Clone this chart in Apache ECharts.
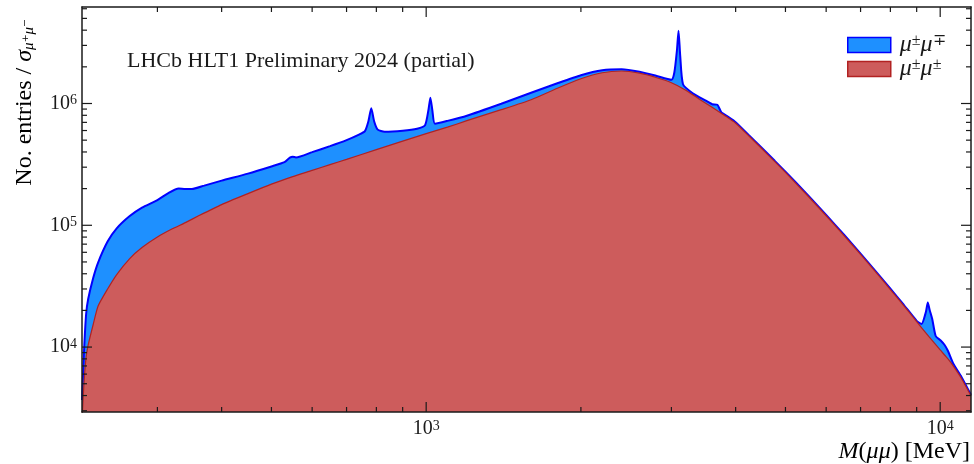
<!DOCTYPE html>
<html>
<head>
<meta charset="utf-8">
<script src="https://cdn.jsdelivr.net/npm/echarts@6/dist/echarts.min.js"></script>
<style>
  html, body { margin: 0; padding: 0; background: #fff; }
  #chart { width: 974px; height: 464px; }
</style>
</head>
<body>
<div id="chart"></div>
<script>
var chart = echarts.init(document.getElementById('chart'));

// opposite-sign pairs: mass (MeV) and entries
const massOS = [214, 216, 218, 220, 225, 230, 240, 250, 265, 280,
  300, 315, 330, 340, 350, 370, 400, 450, 500, 530,
  543, 550, 558, 600, 650, 700, 740, 760, 772, 782,
  792, 805, 830, 900, 960, 995, 1010, 1019, 1028, 1040,
  1100, 1200, 1400, 1600, 1800, 2000, 2200, 2400, 2600, 2800,
  3000, 3040, 3075, 3097, 3120, 3160, 3300, 3500, 3600, 3686,
  3750, 3850, 4000, 4250, 4500, 4750, 5000, 5500, 6000, 6500,
  7000, 7500, 8000, 8500, 9000, 9200, 9380, 9460, 9540, 9650,
  9800, 10023, 10200, 10355, 10600, 11000, 11480];
const entriesOS = [3681, 9467, 18690, 24810, 36890, 49430, 73500, 94320, 119000, 139700,
  161000, 183700, 200100, 198200, 198200, 211700, 232700, 265600, 304200, 330000,
  359300, 366100, 360600, 398600, 446300, 500000, 554600, 592700, 715900, 915000,
  715900, 609800, 587000, 598400, 621400, 663700, 881000, 1116000, 881000, 682800,
  720000, 794000, 996300, 1226000, 1467000, 1707000, 1876000, 1912000, 1824000, 1691000,
  1567000, 1807000, 2736000, 3956000, 2490000, 1439000, 1215000, 1054000, 987000, 977700,
  848500, 786700, 702400, 546000, 431400, 343200, 275700, 180900, 121500, 83570,
  58450, 41700, 30140, 22150, 16430, 15470, 19410, 23220, 20150, 17000,
  12330, 11330, 10400, 9290, 7336, 5684, 4045];

// same-sign pairs
const massSS = [214, 216, 218, 220, 225, 230, 240, 250, 265, 280,
  300, 320, 340, 360, 400, 450, 500, 550, 600, 650,
  700, 800, 900, 1000, 1100, 1200, 1400, 1600, 1800, 2000,
  2200, 2400, 2600, 2800, 3000, 3200, 3400, 3600, 3800, 4000,
  4250, 4500, 4750, 5000, 5500, 6000, 6500, 7000, 7500, 8000,
  8500, 9000, 9500, 10000, 10355, 10600, 11000, 11480];
const entriesSS = [2500, 5176, 8298, 10400, 15320, 21740, 29970, 39410, 53300, 65630,
  80050, 93070, 105200, 119000, 147800, 182000, 217800, 250900, 282100, 314800,
  347800, 417800, 490700, 565400, 639000, 722600, 889500, 1074000, 1335000, 1598000,
  1789000, 1848000, 1773000, 1635000, 1481000, 1286000, 1085000, 932400, 801700, 689300,
  538100, 425000, 338100, 271600, 178200, 119700, 82340, 57590, 41080, 29690,
  21820, 16190, 12220, 9467, 7988, 6998, 5525, 3971];

const seriesNames = ['μ±μ∓', 'μ±μ±'];
const xRange = [214, 11480];
const yRange = [2930, 6.2e6];
const xMajorTicks = [1000, 10000];
const xMinorTicks = [300, 400, 500, 600, 700, 800, 900, 2000, 3000, 4000, 5000, 6000, 7000, 8000, 9000];
const yMajorTicks = [1e4, 1e5, 1e6];
const yMinorTicks = [3000, 4000, 5000, 6000, 7000, 8000, 9000,
  2e4, 3e4, 4e4, 5e4, 6e4, 7e4, 8e4, 9e4,
  2e5, 3e5, 4e5, 5e5, 6e5, 7e5, 8e5, 9e5,
  2e6, 3e6, 4e6, 5e6, 6e6];

var serif = '"Liberation Serif", "DejaVu Serif", serif';
var ink = '#1a1a1a';

function zip(a, b) {
  return a.map(function (v, i) { return [v, b[i]]; });
}

function powLabel(v) {
  var e = Math.log10(v);
  if (Math.abs(e - Math.round(e)) > 1e-6) return '';
  return '{b|10}{s|' + Math.round(e) + '}';
}

var labelRich = {
  b: { fontFamily: serif, fontSize: 20, color: ink },
  s: { fontFamily: serif, fontSize: 14, color: ink, verticalAlign: 'top' }
};

function frameAxis(pos, showLabel) {
  var horiz = pos === 'bottom' || pos === 'top';
  return {
    type: 'log', logBase: 10, position: pos, z: 10,
    min: horiz ? xRange[0] : yRange[0],
    max: horiz ? xRange[1] : yRange[1],
    axisLine: { show: true, onZero: false, lineStyle: { color: ink, width: 1.5 } },
    axisTick: { show: false },
    splitLine: { show: false },
    axisLabel: showLabel ? {
      show: true, formatter: powLabel, rich: labelRich,
      margin: horiz ? 7 : 5, showMinLabel: false, showMaxLabel: false
    } : { show: false }
  };
}

var tickStyle = { stroke: ink, lineWidth: 1.2 };

function renderXTicks(params, api) {
  var cs = params.coordSys;
  var x = api.coord([api.value(0), 1e5])[0];
  var len = api.value(2) ? 10 : 5;
  var yb = cs.y + cs.height, yt = cs.y;
  return { type: 'group', children: [
    { type: 'line', shape: { x1: x, y1: yb, x2: x, y2: yb - len }, style: tickStyle },
    { type: 'line', shape: { x1: x, y1: yt, x2: x, y2: yt + len }, style: tickStyle }
  ] };
}

function renderYTicks(params, api) {
  var cs = params.coordSys;
  var y = api.coord([1000, api.value(1)])[1];
  var len = api.value(2) ? 10 : 5;
  var xl = cs.x, xr = cs.x + cs.width;
  return { type: 'group', children: [
    { type: 'line', shape: { x1: xl, y1: y, x2: xl + len, y2: y }, style: tickStyle },
    { type: 'line', shape: { x1: xr, y1: y, x2: xr - len, y2: y }, style: tickStyle }
  ] };
}

var xTickData = xMajorTicks.map(function (v) { return [v, 1e5, 1]; })
  .concat(xMinorTicks.map(function (v) { return [v, 1e5, 0]; }));
var yTickData = yMajorTicks.map(function (v) { return [1000, v, 1]; })
  .concat(yMinorTicks.map(function (v) { return [1000, v, 0]; }));

var option = {
  animation: false,
  backgroundColor: '#fff',
  grid: { left: 82, right: 3, top: 7, bottom: 52, containLabel: false },
  title: {
    text: 'LHCb HLT1 Preliminary 2024 (partial)',
    left: 122, top: 45,
    textStyle: { fontFamily: serif, fontSize: 22, fontWeight: 'normal', color: ink }
  },
  legend: {
    data: [
      { name: seriesNames[0], icon: 'rect', itemStyle: { color: '#1e90ff', borderColor: '#0000ff', borderWidth: 1.5 } },
      { name: seriesNames[1], icon: 'rect', itemStyle: { color: '#cd5c5c', borderColor: '#b22222', borderWidth: 1.5 } }
    ],
    orient: 'vertical', left: 842, top: 28,
    itemWidth: 43, itemHeight: 15, itemGap: 0,
    formatter: function (name) {
      return name === seriesNames[0] ? '{m|μ}{p|±}{m|μ}{p|∓}' : '{m|μ}{p|±}{m|μ}{p|±}';
    },
    textStyle: {
      padding: [0, 0, 0, 4],
      rich: {
        m: { fontFamily: serif, fontStyle: 'italic', fontSize: 24, color: ink, lineHeight: 24 },
        p: { fontFamily: serif, fontSize: 16, color: ink, verticalAlign: 'top', lineHeight: 16 }
      }
    }
  },
  graphic: [
    {
      type: 'text', x: 25, y: 19, rotation: Math.PI / 2,
      style: {
        text: '{n|No. entries / }{g|σ}{u|μ⁺μ⁻}',
        align: 'right', verticalAlign: 'middle',
        rich: {
          n: { fontFamily: serif, fontSize: 24, color: ink },
          g: { fontFamily: serif, fontStyle: 'italic', fontSize: 24, color: ink },
          u: { fontFamily: serif, fontStyle: 'italic', fontSize: 15, color: ink, verticalAlign: 'bottom' }
        }
      }
    },
    {
      type: 'text', x: 970, y: 452,
      style: {
        text: '{i|M}{n|(}{i|μμ}{n|) [MeV]}',
        align: 'right', verticalAlign: 'middle',
        rich: {
          i: { fontFamily: serif, fontStyle: 'italic', fontSize: 24, color: ink },
          n: { fontFamily: serif, fontSize: 24, color: ink }
        }
      }
    }
  ],
  xAxis: [frameAxis('bottom', true), frameAxis('top', false)],
  yAxis: [frameAxis('left', true), frameAxis('right', false)],
  series: [
    {
      name: seriesNames[0], type: 'line', data: zip(massOS, entriesOS),
      showSymbol: false, symbol: 'none', smooth: 0.2, z: 2, silent: true,
      lineStyle: { color: '#0000ff', width: 2 },
      itemStyle: { color: '#1e90ff' },
      areaStyle: { color: '#1e90ff', opacity: 1, origin: 'start' }
    },
    {
      name: seriesNames[1], type: 'line', data: zip(massSS, entriesSS),
      showSymbol: false, symbol: 'none', smooth: 0.2, z: 3, silent: true,
      lineStyle: { color: '#b22222', width: 1.2 },
      itemStyle: { color: '#cd5c5c' },
      areaStyle: { color: '#cd5c5c', opacity: 1, origin: 'start' }
    },
    {
      type: 'custom', renderItem: renderXTicks, data: xTickData, z: 10, silent: true,
      encode: { x: 0, y: 1 }
    },
    {
      type: 'custom', renderItem: renderYTicks, data: yTickData, z: 10, silent: true,
      encode: { x: 0, y: 1 }
    }
  ]
};

chart.setOption(option);
</script>
</body>
</html>
